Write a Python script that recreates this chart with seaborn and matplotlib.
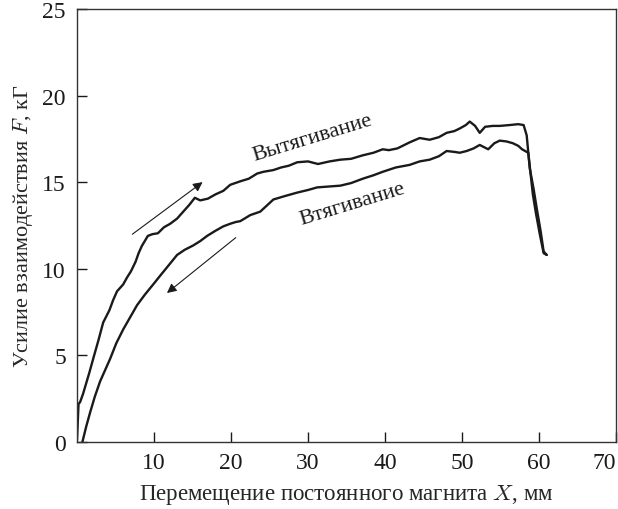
import numpy as np
import pandas as pd
import matplotlib
matplotlib.use("Agg")
import matplotlib.pyplot as plt
import seaborn as sns

# ------------------------------
# DATA
# ------------------------------
x_out = [0.0, 0.2, 0.4, 0.8, 1.2, 1.6, 2.1, 2.8, 3.4, 4.2, 4.7, 5.2, 6.0, 6.5, 7.0,
         7.6, 8.0, 8.4, 9.2, 9.8, 10.5, 11.3, 12.1, 13.0, 13.8, 14.6, 15.3, 16.0,
         17.0, 18.0, 19.0, 19.9, 21.2, 22.3, 23.4, 24.2, 25.5, 26.5, 27.5, 28.6,
         30.0, 31.3, 32.8, 34.2, 35.6, 37.1, 38.5, 39.7, 40.5, 41.6, 43.2, 44.5,
         45.8, 47.0, 48.0, 49.0, 49.7, 50.5, 51.0, 51.7, 52.3, 53.0, 54.0, 54.9,
         56.2, 57.3, 58.0, 58.4, 58.8, 59.3, 59.7, 60.2, 60.6, 61.0]
y_out = [0.1, 2.2, 2.3, 2.8, 3.4, 4.0, 4.8, 5.9, 6.9, 7.6, 8.2, 8.7, 9.1, 9.5, 9.85,
         10.4, 10.9, 11.3, 11.9, 12.0, 12.05, 12.4, 12.6, 12.9, 13.3, 13.7, 14.1, 13.95,
         14.05, 14.3, 14.5, 14.85, 15.05, 15.2, 15.5, 15.6, 15.7, 15.85, 15.95, 16.15,
         16.2, 16.05, 16.2, 16.3, 16.35, 16.55, 16.7, 16.9, 16.85, 16.95, 17.3, 17.55,
         17.45, 17.6, 17.85, 17.95, 18.1, 18.3, 18.5, 18.25, 17.85, 18.2, 18.25, 18.25,
         18.3, 18.35, 18.3, 17.7, 15.8, 14.6, 13.5, 12.2, 11.0, 10.8]

x_in = [0.7, 1.2, 1.7, 2.3, 3.0, 3.6, 4.3, 5.1, 6.0, 6.9, 7.8, 8.8, 9.9,
        10.8, 11.9, 13.0, 14.0, 15.1, 16.0, 16.9, 18.0, 19.0, 19.9, 20.6, 21.2,
        22.5, 23.8, 25.5, 27.0, 28.6, 30.0, 31.2, 32.7, 34.2, 35.6, 37.1, 38.5,
        39.7, 41.4, 43.2, 44.5, 45.8, 47.0, 48.0, 49.0, 49.7, 50.6, 51.5, 52.3,
        53.4, 54.2, 54.9, 55.8, 56.6, 57.3, 57.8, 58.6, 59.2, 59.6, 60.1, 60.6, 61.0]
y_in = [0.0, 0.9, 1.7, 2.6, 3.5, 4.1, 4.8, 5.7, 6.5, 7.2, 7.9, 8.5, 9.1,
        9.6, 10.2, 10.8, 11.1, 11.35, 11.6, 11.9, 12.2, 12.45, 12.6, 12.7, 12.75,
        13.1, 13.3, 14.0, 14.2, 14.4, 14.55, 14.7, 14.75, 14.8, 14.95, 15.2, 15.4,
        15.6, 15.85, 16.0, 16.2, 16.3, 16.5, 16.8, 16.75, 16.7, 16.8, 16.95, 17.15,
        16.9, 17.25, 17.4, 17.35, 17.25, 17.1, 16.9, 16.7, 14.3, 13.2, 12.0, 10.9, 10.8]

x_ticks = [10, 20, 30, 40, 50, 60, 70]
y_ticks = [0, 5, 10, 15, 20, 25]

df = pd.concat([
    pd.DataFrame({"x": x_out, "y": y_out, "curve": "Вытягивание"}),
    pd.DataFrame({"x": x_in, "y": y_in, "curve": "Втягивание"}),
])

# ------------------------------
# PLOT
# ------------------------------
sns.set_style("ticks")
plt.rcParams["font.family"] = ["Liberation Serif", "DejaVu Serif"]
plt.rcParams["mathtext.fontset"] = "cm"

fig = plt.figure(figsize=(6.18, 5.10), dpi=100)
ax = fig.add_axes([0.1246, 0.1314, 0.8722, 0.8490])

sns.lineplot(data=df, x="x", y="y", units="curve", estimator=None, sort=False,
             color="#1a1a1a", linewidth=1.7, ax=ax, legend=False)

ax.set_xlim(0, 70)
ax.set_ylim(0, 25)
ax.set_xticks(x_ticks)
ax.set_yticks(y_ticks)
ax.tick_params(direction="in", length=7, width=1, labelsize=17, colors="#1a1a1a",
               bottom=True, left=True, top=False, right=False)
ax.tick_params(axis="x", pad=7)
ax.tick_params(axis="y", pad=8)
ax.get_xticklabels()[-1].set_horizontalalignment("right")
for s in ax.spines.values():
    s.set_color("#333333")
    s.set_linewidth(1.0)

ax.set_xlabel("Перемещение постоянного магнита $X$, мм", fontsize=16.5, labelpad=7)
ax.set_ylabel("Усилие взаимодействия $F$, кГ", fontsize=16, labelpad=5)

# arrows and curve labels
ax.annotate("", xy=(16.6, 15.1), xytext=(6.9, 11.9),
            arrowprops=dict(arrowstyle="-|>", color="#1a1a1a", lw=0.8,
                            mutation_scale=14))
ax.annotate("", xy=(11.4, 8.5), xytext=(20.9, 11.9),
            arrowprops=dict(arrowstyle="-|>", color="#1a1a1a", lw=0.8,
                            mutation_scale=14))
ax.text(30.6, 17.6, "Вытягивание", rotation=17, ha="center", va="center",
        fontsize=16, color="#1a1a1a")
ax.text(35.7, 13.75, "Втягивание", rotation=17, ha="center", va="center",
        fontsize=16, color="#1a1a1a")

plt.savefig("out.png", dpi=100)
